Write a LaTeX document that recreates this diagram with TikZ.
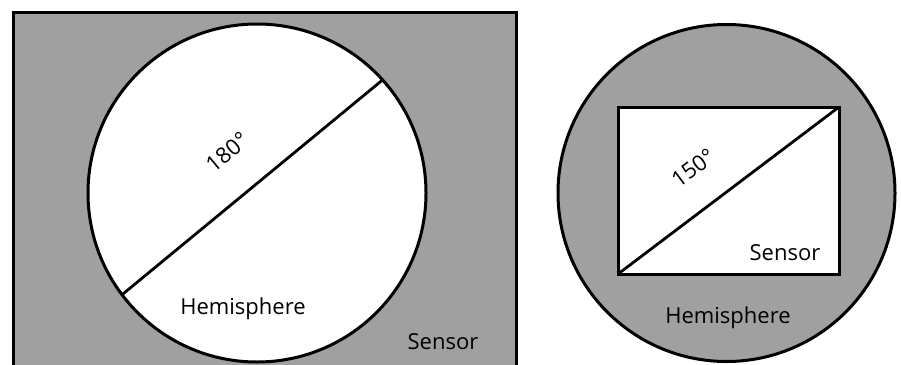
\documentclass[tikz,border=0pt]{standalone}
\usepackage{fontspec}
\setmainfont{Open Sans}
\usetikzlibrary{positioning}
\definecolor{sensorgray}{RGB}{160,160,160}

\begin{document}
\begin{tikzpicture}[
    x = 1pt, y = -1pt,
    every node/.style = {font = \fontsize{22}{26}\selectfont},
    outline/.style    = {draw, line width = 3pt},
    grayarea/.style   = {outline, fill = sensorgray},
    whitearea/.style  = {outline, fill = white},
    hemi/.style       = {whitearea, circle, inner sep = 0pt, outer sep = 0pt, minimum size = 338pt},
    hemigray/.style   = {grayarea, circle, inner sep = 0pt, outer sep = 0pt, minimum size = 337pt},
    chip/.style       = {whitearea, rectangle, inner sep = 0pt, outer sep = 0pt, minimum width = 221pt, minimum height = 167pt},
    diag/.style       = {line width = 2.8pt},
]

\useasboundingbox (0,0) rectangle (901,364);
\clip (0,0) rectangle (901,364);

% ---------- left: hemisphere inside sensor ----------
\draw[grayarea] (13,12) rectangle (516,380);
\node[hemi] (hemiL) at (257,193) {};
\draw[diag] (hemiL.217) -- (hemiL.42);

\node[rotate = 40] (angleL) at (227,152) {180°};
\node (hemiLabelL)   at (243,309) {Hemisphere};
\node (sensorLabelL) at (443,342) {Sensor};

% ---------- right: sensor inside hemisphere ----------
\node[hemigray] (hemiR) at (726.5,193) {};
\node[chip] (chipR) at (728.5,190.5) {};
\draw[diag] (chipR.south west) -- (chipR.north east);

\node[rotate = 37] (angleR) at (693,168) {150°};
\node (sensorLabelR) at (785,253) {Sensor};
\node (hemiLabelR)   at (728,318) {Hemisphere};

\end{tikzpicture}
\end{document}
